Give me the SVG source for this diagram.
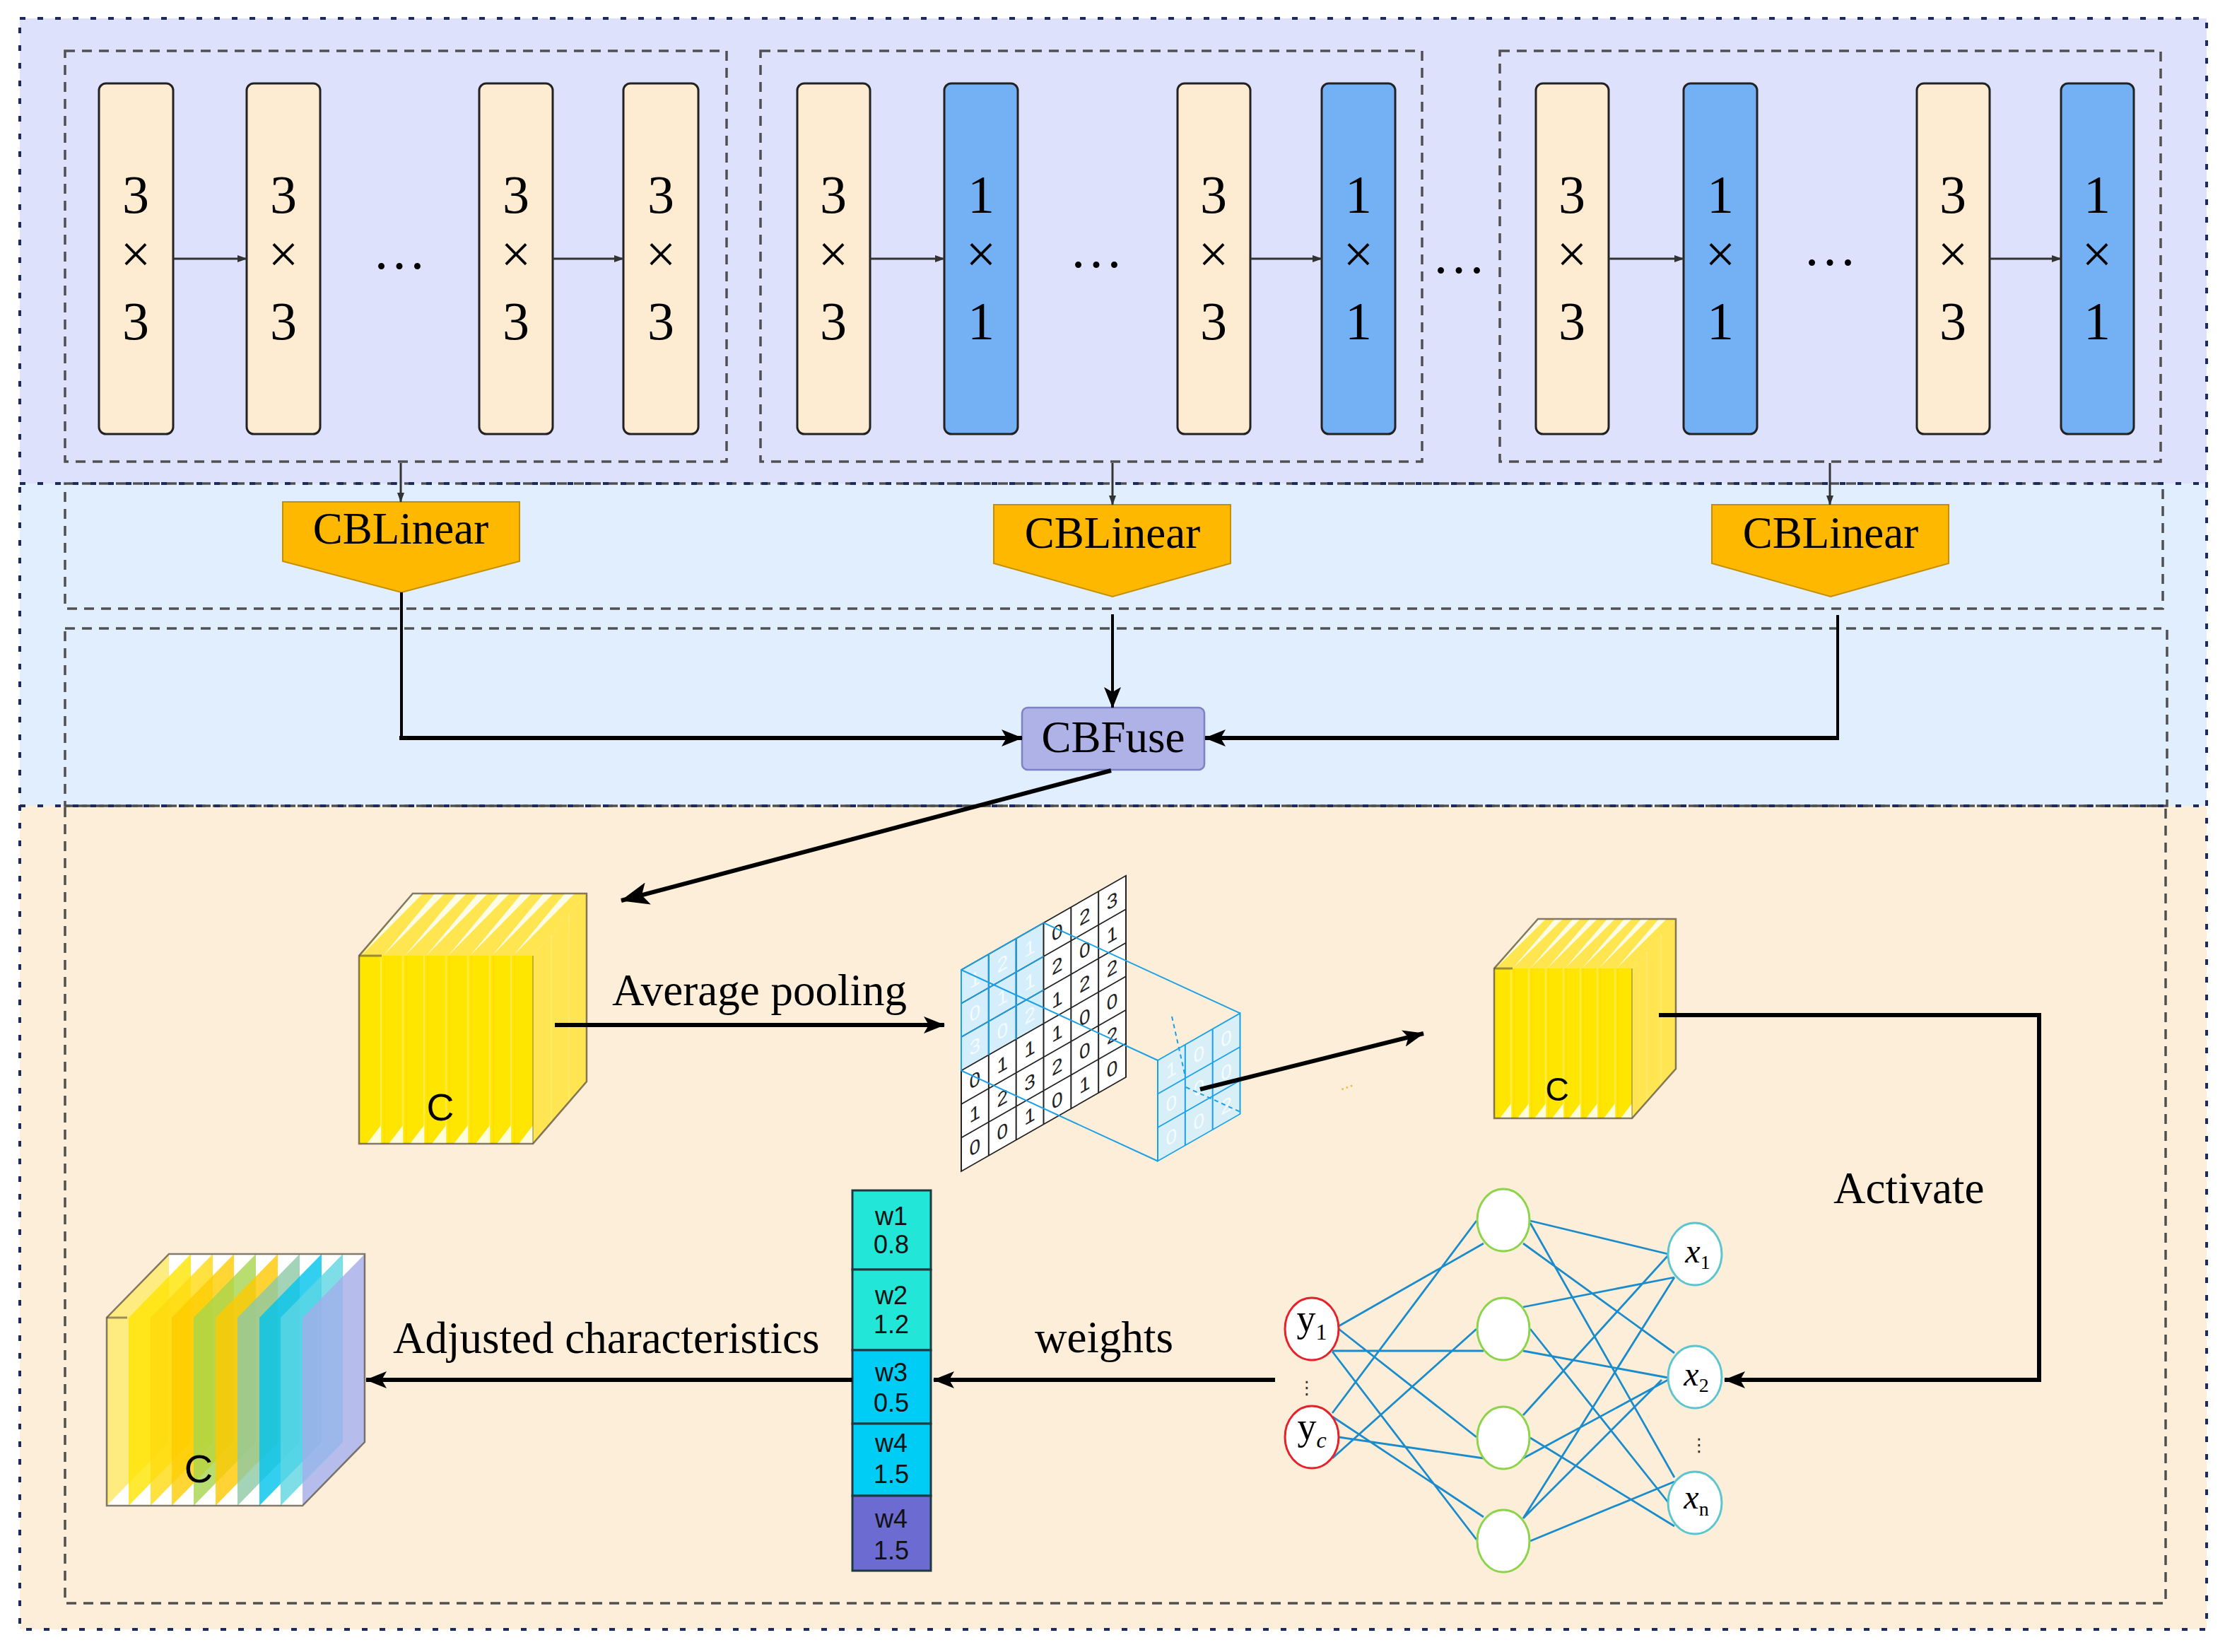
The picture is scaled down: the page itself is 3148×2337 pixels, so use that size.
<svg xmlns="http://www.w3.org/2000/svg" width="3148" height="2337" viewBox="0 0 3148 2337">
<style>
.serif{font-family:"Liberation Serif","Times New Roman",serif;fill:#000}
.sans{font-family:"Liberation Sans",Arial,sans-serif;fill:#000}
.lbl{font-size:63px}
.barB{fill:#feecd2;stroke:#222;stroke-width:3}
.barC{fill:#74b0f4;stroke:#222;stroke-width:3}
.bt{font-size:76px;text-anchor:middle}
.navy{fill:none;stroke:#1c2a5c;stroke-width:4;stroke-dasharray:8 17}
.gray{fill:none;stroke:#505050;stroke-width:3.5;stroke-dasharray:14 10}
.conn{fill:none;stroke:#000;stroke-width:6}
.thin{fill:none;stroke:#333;stroke-width:3}
.nn{stroke:#1a8ccc;stroke-width:2.8;fill:none}
.cb{fill:#ffb800;stroke:#c58f00;stroke-width:2}
.yf{fill:#ffe600}
.yt{fill:#ffe650}
.ysd{fill:#ffe552}
.wsl{fill:#ffffff;fill-opacity:0.85}
.stl{stroke:#fff07a;stroke-width:2.5;stroke-opacity:0.55}
.std{stroke:#ffd400;stroke-width:1.5;stroke-opacity:0.5}
.out{fill:none;stroke:#5a5040;stroke-width:2.5;stroke-opacity:0.75}
.gblk{stroke:#222;stroke-width:2;fill:none}
.gblu{stroke:#1aa0e6;stroke-width:2;fill:none}
.dg{font-family:"Liberation Sans",Arial,sans-serif;font-size:28px;text-anchor:middle;fill:#222}
.dw{font-family:"Liberation Sans",Arial,sans-serif;font-size:28px;text-anchor:middle;fill:#ffffff;fill-opacity:0.75}
.wt{font-family:"Liberation Sans",Arial,sans-serif;font-size:36px;text-anchor:middle;fill:#111}
</style>
<defs>
<marker id="ah" markerUnits="userSpaceOnUse" viewBox="0 0 30 24" refX="29" refY="12" markerWidth="30" markerHeight="24" orient="auto"><path d="M0,0 L30,12 L0,24 L7,12 z" fill="#000"/></marker>
<marker id="ahL" markerUnits="userSpaceOnUse" viewBox="0 0 40 32" refX="39" refY="16" markerWidth="40" markerHeight="32" orient="auto"><path d="M0,0 L40,16 L0,32 L9,16 z" fill="#000"/></marker>
<marker id="ahs" markerUnits="userSpaceOnUse" viewBox="0 0 14 10" refX="13" refY="5" markerWidth="14" markerHeight="10" orient="auto"><path d="M0,0 L14,5 L0,10 z" fill="#333"/></marker>
</defs>

<!-- regions -->
<g id="regions">
<rect x="28" y="26" width="3094" height="658" fill="#dee1fc"/>
<rect x="28" y="684" width="3094" height="456" fill="#e1eefe"/>
<rect x="28" y="1140" width="3094" height="1165" fill="#fdeed9"/>
<rect x="92" y="72" width="936" height="581" class="gray"/>
<rect x="1076" y="72" width="936" height="581" class="gray"/>
<rect x="2122" y="72" width="935" height="581" class="gray"/>
<rect x="92" y="684" width="2968" height="177" class="gray"/>
<rect x="92" y="889" width="2974" height="251" class="gray"/>
<rect x="92" y="1140" width="2972" height="1128" class="gray"/>
<rect x="28" y="26" width="3094" height="2279" class="navy"/>
<line x1="28" y1="684" x2="3122" y2="684" class="navy"/>
<line x1="28" y1="1140" x2="3122" y2="1140" class="navy"/>
</g>

<!-- bars box 1 -->
<g id="b1a"><rect x="140" y="118" width="105" height="496" rx="10" class="barB"/><text class="serif bt" x="192" y="301">3</text><text class="serif bt" x="192" y="385">×</text><text class="serif bt" x="192" y="480">3</text></g>
<g id="b1b"><rect x="349" y="118" width="104" height="496" rx="10" class="barB"/><text class="serif bt" x="401" y="301">3</text><text class="serif bt" x="401" y="385">×</text><text class="serif bt" x="401" y="480">3</text></g>
<g id="b1c"><rect x="678" y="118" width="104" height="496" rx="10" class="barB"/><text class="serif bt" x="730" y="301">3</text><text class="serif bt" x="730" y="385">×</text><text class="serif bt" x="730" y="480">3</text></g>
<g id="b1d"><rect x="882" y="118" width="106" height="496" rx="10" class="barB"/><text class="serif bt" x="935" y="301">3</text><text class="serif bt" x="935" y="385">×</text><text class="serif bt" x="935" y="480">3</text></g>
<!-- bars box 2 -->
<g id="b2a"><rect x="1128" y="118" width="103" height="496" rx="10" class="barB"/><text class="serif bt" x="1179" y="301">3</text><text class="serif bt" x="1179" y="385">×</text><text class="serif bt" x="1179" y="480">3</text></g>
<g id="b2b"><rect x="1336" y="118" width="104" height="496" rx="10" class="barC"/><text class="serif bt" x="1388" y="301">1</text><text class="serif bt" x="1388" y="385">×</text><text class="serif bt" x="1388" y="480">1</text></g>
<g id="b2c"><rect x="1666" y="118" width="103" height="496" rx="10" class="barB"/><text class="serif bt" x="1717" y="301">3</text><text class="serif bt" x="1717" y="385">×</text><text class="serif bt" x="1717" y="480">3</text></g>
<g id="b2d"><rect x="1870" y="118" width="104" height="496" rx="10" class="barC"/><text class="serif bt" x="1922" y="301">1</text><text class="serif bt" x="1922" y="385">×</text><text class="serif bt" x="1922" y="480">1</text></g>
<!-- bars box 3 -->
<g id="b3a"><rect x="2173" y="118" width="103" height="496" rx="10" class="barB"/><text class="serif bt" x="2224" y="301">3</text><text class="serif bt" x="2224" y="385">×</text><text class="serif bt" x="2224" y="480">3</text></g>
<g id="b3b"><rect x="2382" y="118" width="104" height="496" rx="10" class="barC"/><text class="serif bt" x="2434" y="301">1</text><text class="serif bt" x="2434" y="385">×</text><text class="serif bt" x="2434" y="480">1</text></g>
<g id="b3c"><rect x="2712" y="118" width="103" height="496" rx="10" class="barB"/><text class="serif bt" x="2763" y="301">3</text><text class="serif bt" x="2763" y="385">×</text><text class="serif bt" x="2763" y="480">3</text></g>
<g id="b3d"><rect x="2916" y="118" width="103" height="496" rx="10" class="barC"/><text class="serif bt" x="2967" y="301">1</text><text class="serif bt" x="2967" y="385">×</text><text class="serif bt" x="2967" y="480">1</text></g>

<g id="ellipses">
<text class="serif bt" x="565" y="380">…</text>
<text class="serif bt" x="1551" y="378">…</text>
<text class="serif bt" x="2064" y="386">…</text>
<text class="serif bt" x="2589" y="375">…</text>
</g>

<!-- CBLinear -->
<g id="cbl1"><polygon points="400,710 735,710 735,794 568,838 400,794" class="cb"/><text class="serif lbl" x="567" y="769" text-anchor="middle">CBLinear</text></g>
<g id="cbl2"><polygon points="1406,714 1741,714 1741,797 1574,844 1406,797" class="cb"/><text class="serif lbl" x="1574" y="775" text-anchor="middle">CBLinear</text></g>
<g id="cbl3"><polygon points="2422,714 2757,714 2757,797 2590,844 2422,797" class="cb"/><text class="serif lbl" x="2590" y="775" text-anchor="middle">CBLinear</text></g>

<!-- CBFuse -->
<g id="cbfuse"><rect x="1446" y="1001" width="258" height="88" rx="8" fill="#aeb2e6" stroke="#7d82c4" stroke-width="2.5"/><text class="serif lbl" x="1575" y="1064" text-anchor="middle">CBFuse</text></g>

<!-- cube 1 -->
<g id="cube1">
<rect x="508" y="1352" width="246" height="266" class="yf"/>
<polygon points="508,1352 584,1264 830,1264 754,1352" class="yt"/>
<polygon points="754,1352 830,1264 830,1530 754,1618" class="ysd"/>
<path class="stl" d="M539,1352V1618 M570,1352V1618 M600,1352V1618 M631,1352V1618 M662,1352V1618 M693,1352V1618 M723,1352V1618 M780,1322V1588 M805,1293V1559"/>
<path class="std" d="M544,1352V1618 M575,1352V1618 M605,1352V1618 M636,1352V1618 M667,1352V1618 M698,1352V1618 M728,1352V1618"/>
<path class="wsl" d="M511,1352 L584,1264 L598,1264 Z M542,1352 L615,1264 L629,1264 Z M573,1352 L646,1264 L660,1264 Z M603,1352 L676,1264 L690,1264 Z M634,1352 L707,1264 L721,1264 Z M665,1352 L738,1264 L752,1264 Z M696,1352 L769,1264 L783,1264 Z M726,1352 L799,1264 L813,1264 Z"/>
<path class="wsl" d="M519,1618 L539,1618 L539,1592 Z M550,1618 L570,1618 L570,1592 Z M580,1618 L600,1618 L600,1592 Z M611,1618 L631,1618 L631,1592 Z M642,1618 L662,1618 L662,1592 Z M673,1618 L693,1618 L693,1592 Z M703,1618 L723,1618 L723,1592 Z M734,1618 L754,1618 L754,1592 Z"/>
<path class="out" d="M508,1618 L508,1352 L584,1264 L830,1264 L830,1530 L754,1618 Z"/>
<line x1="754" y1="1352" x2="754" y2="1618" stroke="#5a5040" stroke-width="1.5" stroke-opacity="0.5"/>
<line x1="508" y1="1352" x2="540" y2="1352" stroke="#5a5040" stroke-width="3" stroke-opacity="0.6"/>
<text class="sans" x="623" y="1585" font-size="54" text-anchor="middle">C</text>
</g>

<!-- pooling grid -->
<g id="pool">
<g transform="matrix(1 -0.5714 0 1 1360 1372)">
<rect x="0" y="0" width="233" height="285" fill="#ffffff"/>
<rect x="0" y="0" width="116.5" height="142.5" fill="#d4eefb"/>
<path class="gblk" d="M0,0 H233 V285 H0 Z M38.83,0 V285 M77.67,0 V285 M116.5,0 V285 M155.33,0 V285 M194.17,0 V285 M0,47.5 H233 M0,95 H233 M0,142.5 H233 M0,190 H233 M0,237.5 H233"/>
<path class="gblu" d="M0,142.5 V0 H116.5 M38.83,0 V142.5 M77.67,0 V142.5 M0,47.5 H116.5 M0,95 H116.5"/>
<text class="dw" x="19.4" y="34">1</text><text class="dw" x="19.4" y="81.5">0</text><text class="dw" x="19.4" y="129">3</text>
<text class="dg" x="19.4" y="176.5">0</text><text class="dg" x="19.4" y="224">1</text><text class="dg" x="19.4" y="271.5">0</text>
<text class="dw" x="58.2" y="34">2</text><text class="dw" x="58.2" y="81.5">1</text><text class="dw" x="58.2" y="129">0</text>
<text class="dg" x="58.2" y="176.5">1</text><text class="dg" x="58.2" y="224">2</text><text class="dg" x="58.2" y="271.5">0</text>
<text class="dw" x="97.1" y="34">1</text><text class="dw" x="97.1" y="81.5">1</text><text class="dw" x="97.1" y="129">2</text>
<text class="dg" x="97.1" y="176.5">1</text><text class="dg" x="97.1" y="224">3</text><text class="dg" x="97.1" y="271.5">1</text>
<text class="dg" x="135.9" y="34">0</text><text class="dg" x="135.9" y="81.5">2</text><text class="dg" x="135.9" y="129">1</text>
<text class="dg" x="135.9" y="176.5">1</text><text class="dg" x="135.9" y="224">2</text><text class="dg" x="135.9" y="271.5">0</text>
<text class="dg" x="174.8" y="34">2</text><text class="dg" x="174.8" y="81.5">0</text><text class="dg" x="174.8" y="129">2</text>
<text class="dg" x="174.8" y="176.5">0</text><text class="dg" x="174.8" y="224">0</text><text class="dg" x="174.8" y="271.5">1</text>
<text class="dg" x="213.6" y="34">3</text><text class="dg" x="213.6" y="81.5">1</text><text class="dg" x="213.6" y="129">2</text>
<text class="dg" x="213.6" y="176.5">0</text><text class="dg" x="213.6" y="224">2</text><text class="dg" x="213.6" y="271.5">0</text>
</g>
<line class="gblu" x1="1360" y1="1372" x2="1638" y2="1500"/>
<line class="gblu" x1="1476.5" y1="1305.4" x2="1754.5" y2="1433.4"/>
<line class="gblu" x1="1360" y1="1514.5" x2="1638" y2="1642.5"/>
<g transform="matrix(1 -0.5714 0 1 1638 1500)">
<rect x="0" y="0" width="116.5" height="142.5" fill="#d4eefb" fill-opacity="0.9"/>
<path class="gblu" d="M0,0 H116.5 V142.5 H0 Z M38.83,0 V142.5 M77.67,0 V142.5 M0,47.5 H116.5 M0,95 H116.5" stroke-width="2.5"/>
<text class="dw" x="19.4" y="34">1</text><text class="dw" x="19.4" y="81.5">0</text><text class="dw" x="19.4" y="129">0</text>
<text class="dw" x="58.2" y="34">0</text><text class="dw" x="58.2" y="81.5">0</text><text class="dw" x="58.2" y="129">0</text>
<text class="dw" x="97.1" y="34">0</text><text class="dw" x="97.1" y="81.5">0</text><text class="dw" x="97.1" y="129">2</text>
</g>
<path d="M1658,1438 L1677,1523 M1678,1538 L1755,1573" stroke="#1aa0e6" stroke-width="2" stroke-dasharray="6 5" fill="none"/>
<text x="1897" y="1543" font-family="Liberation Sans,Arial,sans-serif" font-size="24" fill="#f6b940" transform="rotate(-20 1897 1543)">...</text>
</g>

<!-- cube 2 -->
<g id="cube2">
<rect x="2114" y="1370" width="195" height="212" class="yf"/>
<polygon points="2114,1370 2176,1300 2371,1300 2309,1370" class="yt"/>
<polygon points="2309,1370 2371,1300 2371,1512 2309,1582" class="ysd"/>
<path class="stl" d="M2138,1370V1582 M2163,1370V1582 M2187,1370V1582 M2212,1370V1582 M2236,1370V1582 M2260,1370V1582 M2285,1370V1582 M2330,1346V1558 M2350,1323V1535"/>
<path class="std" d="M2142,1370V1582 M2167,1370V1582 M2191,1370V1582 M2216,1370V1582 M2240,1370V1582 M2264,1370V1582 M2289,1370V1582"/>
<path class="wsl" d="M2116,1370 L2176,1300 L2187,1300 Z M2140,1370 L2200,1300 L2211,1300 Z M2165,1370 L2225,1300 L2236,1300 Z M2189,1370 L2249,1300 L2260,1300 Z M2214,1370 L2274,1300 L2285,1300 Z M2238,1370 L2298,1300 L2309,1300 Z M2262,1370 L2322,1300 L2333,1300 Z M2287,1370 L2347,1300 L2358,1300 Z"/>
<path class="wsl" d="M2122,1582 L2138,1582 L2138,1561 Z M2147,1582 L2163,1582 L2163,1561 Z M2171,1582 L2187,1582 L2187,1561 Z M2196,1582 L2212,1582 L2212,1561 Z M2220,1582 L2236,1582 L2236,1561 Z M2244,1582 L2260,1582 L2260,1561 Z M2269,1582 L2285,1582 L2285,1561 Z M2293,1582 L2309,1582 L2309,1561 Z"/>
<path class="out" d="M2114,1582 L2114,1370 L2176,1300 L2371,1300 L2371,1512 L2309,1582 Z"/>
<line x1="2309" y1="1370" x2="2309" y2="1582" stroke="#5a5040" stroke-width="1.5" stroke-opacity="0.5"/>
<line x1="2114" y1="1370" x2="2140" y2="1370" stroke="#5a5040" stroke-width="3" stroke-opacity="0.6"/>
<text class="sans" x="2203" y="1557" font-size="46" text-anchor="middle">C</text>
</g>

<!-- cube 3 -->
<g id="cube3">
<polygon points="151,2130 151,1864 239,1774 516,1774 516,2040 428,2130" fill="#ffffff"/>
<g fill-opacity="0.8">
<polygon fill="#ffe760" points="151,2130 151,1864 239,1774 239,2040"/>
<polygon fill="#ffe500" points="182,2130 182,1864 270,1774 270,2040"/>
<polygon fill="#ffda10" points="213,2130 213,1864 301,1774 301,2040"/>
<polygon fill="#ffcc00" points="243,2130 243,1864 331,1774 331,2040"/>
<polygon fill="#a6d64e" points="274,2130 274,1864 362,1774 362,2040"/>
<polygon fill="#ffc800" points="305,2130 305,1864 393,1774 393,2040"/>
<polygon fill="#8cc9a6" points="336,2130 336,1864 424,1774 424,2040"/>
<polygon fill="#00c3ee" points="367,2130 367,1864 455,1774 455,2040"/>
<polygon fill="#5ed6e2" points="397,2130 397,1864 485,1774 485,2040"/>
<polygon fill="#a4ace8" points="428,2130 428,1864 516,1774 516,2040"/>
</g>
<path class="out" d="M151,2130 L151,1864 L239,1774 L516,1774 L516,2040 L428,2130 Z"/>
<line x1="151" y1="1864" x2="180" y2="1864" stroke="#5a5040" stroke-width="3" stroke-opacity="0.6"/>
<text class="sans" x="281" y="2097" font-size="56" text-anchor="middle">C</text>
</g>

<!-- weights column -->
<g id="weights">
<rect x="1206" y="1684" width="111" height="112" fill="#22e6d8" stroke="#1b3b40" stroke-width="3"/>
<rect x="1206" y="1796" width="111" height="114" fill="#22e6d8" stroke="#1b3b40" stroke-width="3"/>
<rect x="1206" y="1910" width="111" height="104" fill="#00cdf5" stroke="#1b3b40" stroke-width="3"/>
<rect x="1206" y="2014" width="111" height="102" fill="#00cdf5" stroke="#1b3b40" stroke-width="3"/>
<rect x="1206" y="2116" width="111" height="106" fill="#6b6bd1" stroke="#1b3b40" stroke-width="3"/>
<text class="wt" x="1261" y="1733">w1</text><text class="wt" x="1261" y="1773">0.8</text>
<text class="wt" x="1261" y="1845">w2</text><text class="wt" x="1261" y="1886">1.2</text>
<text class="wt" x="1261" y="1954">w3</text><text class="wt" x="1261" y="1997">0.5</text>
<text class="wt" x="1261" y="2054">w4</text><text class="wt" x="1261" y="2098">1.5</text>
<text class="wt" x="1261" y="2161">w4</text><text class="wt" x="1261" y="2206">1.5</text>
</g>

<!-- neural network -->
<g id="nn-edges">
<path class="nn" d="M1894,1876 L2099,1759 M1885,1911 L2099,1911 M1894,1880 L2089,2033 M1885,1912 L2089,2178 M1885,1999 L2089,1727 M1885,2063 L2089,1880 M1894,2033 L2099,2063 M1885,2004 L2099,2146"/>
<path class="nn" d="M2165,1727 L2360,1774 M2155,1759 L2369,1914 M2165,1730 L2369,2090 M2155,1849 L2369,1807 M2155,1911 L2360,1949 M2165,1880 L2360,2125 M2155,2002 L2360,1776 M2155,2063 L2360,1952 M2165,2034 L2369,2159 M2155,2148 L2369,1807 M2155,2148 L2351,1952 M2165,2180 L2369,2096"/>
</g>
<g id="y1"><ellipse cx="1856" cy="1880" rx="38" ry="44" fill="#fff" stroke="#e8202a" stroke-width="3"/><text class="serif" x="1856" y="1883" font-size="54" text-anchor="middle">y<tspan font-size="32" dy="12">1</tspan></text></g>
<g id="yc"><ellipse cx="1856" cy="2033" rx="38" ry="44" fill="#fff" stroke="#e8202a" stroke-width="3"/><text class="serif" x="1856" y="2036" font-size="54" text-anchor="middle">y<tspan font-size="32" dy="12" font-style="italic">c</tspan></text></g>
<text id="ydots" x="1849" y="1972" font-family="DejaVu Sans,sans-serif" font-size="26" text-anchor="middle" fill="#333">⋮</text>
<g id="h1"><ellipse cx="2127" cy="1726" rx="37" ry="44" fill="#fff" stroke="#8cd44a" stroke-width="3"/></g>
<g id="h2"><ellipse cx="2127" cy="1880" rx="37" ry="44" fill="#fff" stroke="#8cd44a" stroke-width="3"/></g>
<g id="h3"><ellipse cx="2127" cy="2034" rx="37" ry="44" fill="#fff" stroke="#8cd44a" stroke-width="3"/></g>
<g id="h4"><ellipse cx="2127" cy="2180" rx="37" ry="44" fill="#fff" stroke="#8cd44a" stroke-width="3"/></g>
<g id="x1"><ellipse cx="2398" cy="1774" rx="38" ry="44" fill="#fff" stroke="#5cc6d0" stroke-width="3"/><text class="serif" x="2402" y="1786" font-size="48" text-anchor="middle"><tspan font-style="italic">x</tspan><tspan font-size="28" dy="9">1</tspan></text></g>
<g id="x2"><ellipse cx="2398" cy="1948" rx="38" ry="44" fill="#fff" stroke="#5cc6d0" stroke-width="3"/><text class="serif" x="2400" y="1960" font-size="48" text-anchor="middle"><tspan font-style="italic">x</tspan><tspan font-size="28" dy="9">2</tspan></text></g>
<g id="xn"><ellipse cx="2398" cy="2126" rx="38" ry="44" fill="#fff" stroke="#5cc6d0" stroke-width="3"/><text class="serif" x="2400" y="2134" font-size="48" text-anchor="middle"><tspan font-style="italic">x</tspan><tspan font-size="28" dy="10">n</tspan></text></g>
<text id="xdots" x="2404" y="2053" font-family="DejaVu Sans,sans-serif" font-size="26" text-anchor="middle" fill="#333">⋮</text>

<!-- labels -->
<g id="labels">
<text class="serif lbl" x="866" y="1422">Average pooling</text>
<text class="serif lbl" x="2594" y="1702">Activate</text>
<text class="serif lbl" x="1464" y="1913">weights</text>
<text class="serif lbl" x="556" y="1914">Adjusted characteristics</text>
</g>

<!-- connectors -->
<g id="connectors">
<line class="thin" x1="245" y1="366" x2="349" y2="366" marker-end="url(#ahs)"/>
<line class="thin" x1="782" y1="366" x2="882" y2="366" marker-end="url(#ahs)"/>
<line class="thin" x1="1231" y1="366" x2="1336" y2="366" marker-end="url(#ahs)"/>
<line class="thin" x1="1769" y1="366" x2="1870" y2="366" marker-end="url(#ahs)"/>
<line class="thin" x1="2276" y1="366" x2="2382" y2="366" marker-end="url(#ahs)"/>
<line class="thin" x1="2815" y1="366" x2="2916" y2="366" marker-end="url(#ahs)"/>
<line class="thin" x1="567" y1="655" x2="567" y2="710" stroke-width="2.5" marker-end="url(#ahs)"/>
<line class="thin" x1="1574" y1="655" x2="1574" y2="714" stroke-width="2.5" marker-end="url(#ahs)"/>
<line class="thin" x1="2589" y1="655" x2="2589" y2="714" stroke-width="2.5" marker-end="url(#ahs)"/>
<line x1="568" y1="838" x2="568" y2="1044" stroke="#000" stroke-width="4"/>
<line class="conn" x1="565" y1="1044" x2="1446" y2="1044" marker-end="url(#ah)"/>
<line x1="1574" y1="869" x2="1574" y2="1001" stroke="#000" stroke-width="4" marker-end="url(#ah)"/>
<line x1="2600" y1="870" x2="2600" y2="1044" stroke="#000" stroke-width="4"/>
<line class="conn" x1="2602" y1="1044" x2="1705" y2="1044" marker-end="url(#ah)"/>
<line class="conn" x1="1572" y1="1090" x2="879" y2="1274" marker-end="url(#ahL)"/>
<line class="conn" x1="785" y1="1450" x2="1336" y2="1450" marker-end="url(#ah)"/>
<line class="conn" x1="1698" y1="1541" x2="2014" y2="1462" marker-end="url(#ah)"/>
<polyline class="conn" points="2347,1436 2885,1436 2885,1952 2440,1952" marker-end="url(#ah)"/>
<line class="conn" x1="1804" y1="1952" x2="1321" y2="1952" marker-end="url(#ah)"/>
<line class="conn" x1="1206" y1="1952" x2="518" y2="1952" marker-end="url(#ah)"/>
</g>
</svg>
